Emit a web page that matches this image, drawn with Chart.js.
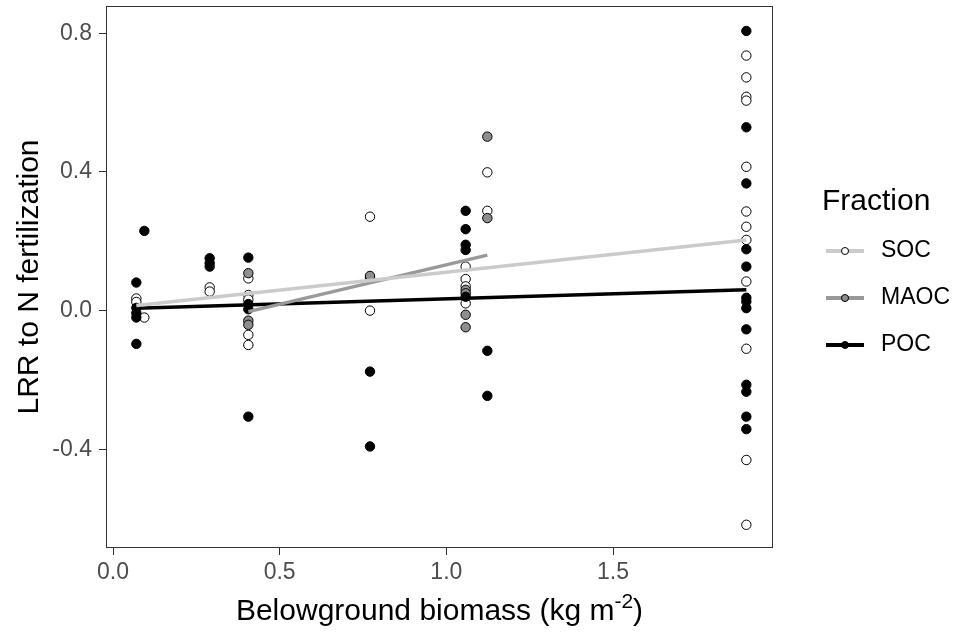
<!DOCTYPE html>
<html>
<head>
<meta charset="utf-8">
<script src="https://cdn.jsdelivr.net/npm/chart.js@4.4.1/dist/chart.umd.min.js"></script>
<style>
  html, body { margin: 0; padding: 0; background: #fff; }
  #wrap { width: 963px; height: 634px; }
</style>
</head>
<body>
<div id="wrap"><canvas id="chart" width="963" height="634"></canvas></div>
<script>
// Belowground biomass (x) vs LRR (y), one pair of arrays per fraction
const socX = [0.07, 0.07, 0.094, 0.29, 0.29, 0.406, 0.406, 0.406, 0.406, 0.406,
  0.771, 0.771, 0.771, 1.058, 1.058, 1.058, 1.058, 1.123, 1.123,
  1.9, 1.9, 1.9, 1.9, 1.9, 1.9, 1.9, 1.9, 1.9, 1.9, 1.9, 1.9];
const socY = [0.035, 0.025, -0.02, 0.067, 0.055, 0.093, 0.045, 0.032, -0.07, -0.099,
  0.271, 0.095, 0.0, 0.127, 0.091, 0.07, 0.021, 0.399, 0.288,
  0.736, 0.673, 0.617, 0.606, 0.415, 0.286, 0.242, 0.204, 0.084, -0.11, -0.431, -0.618];

const maocX = [0.406, 0.406, 0.406, 0.771, 1.058, 1.058, 1.058, 1.058, 1.123, 1.123];
const maocY = [0.108, -0.029, -0.041, 0.1, 0.06, 0.05, -0.012, -0.048, 0.502, 0.267];

const pocX = [0.07, 0.07, 0.07, 0.07, 0.07, 0.094, 0.29, 0.29, 0.29,
  0.406, 0.406, 0.406, 0.406, 0.771, 0.771, 1.058, 1.058, 1.058, 1.058, 1.058,
  1.123, 1.123, 1.9, 1.9, 1.9, 1.9, 1.9, 1.9, 1.9, 1.9, 1.9, 1.9, 1.9, 1.9, 1.9];
const pocY = [0.081, 0.008, -0.007, -0.02, -0.096, 0.23, 0.151, 0.137, 0.127,
  0.153, 0.019, 0.004, -0.306, -0.176, -0.392, 0.288, 0.235, 0.19, 0.175, 0.04,
  -0.116, -0.246, 0.807, 0.529, 0.367, 0.177, 0.127, 0.037, 0.026, 0.007, -0.054,
  -0.214, -0.234, -0.306, -0.342];

// fitted regression lines (end points)
const socFitX = [0.07, 1.9];
const socFitY = [0.015, 0.204];
const maocFitX = [0.406, 1.123];
const maocFitY = [-0.003, 0.16];
const pocFitX = [0.07, 1.9];
const pocFitY = [0.007, 0.06];

const fractions = ['SOC', 'MAOC', 'POC'];
const xTicks = [0, 0.5, 1.0, 1.5];
const yTicks = [-0.4, 0, 0.4, 0.8];

const FILLS = { SOC: '#ffffff', MAOC: '#8e8e8e', POC: '#000000' };
const LINES = { SOC: '#cbcbcb', MAOC: '#999999', POC: '#000000' };
const FONT = '"Liberation Sans", Arial, sans-serif';

Chart.defaults.font.family = FONT;

function toPoints(xs, ys) {
  return xs.map((x, i) => ({ x: x, y: ys[i] }));
}

function pointSet(name, xs, ys, order) {
  return {
    label: name,
    data: toPoints(xs, ys),
    showLine: false,
    pointRadius: 4.7,
    pointHoverRadius: 4.7,
    pointBorderWidth: 1,
    pointBorderColor: '#000',
    pointBackgroundColor: FILLS[name],
    order: order
  };
}

function lineSet(name, xs, ys) {
  return {
    label: name + ' fit',
    data: toPoints(xs, ys),
    showLine: true,
    pointRadius: 0,
    borderColor: LINES[name],
    borderWidth: 3.5,
    fill: false,
    order: 0
  };
}

// panel border, axis titles and the legend are drawn by hand
const decorations = {
  id: 'decorations',
  afterDraw(chart) {
    const ctx = chart.ctx;
    const a = chart.chartArea;
    ctx.save();
    ctx.strokeStyle = '#333';
    ctx.lineWidth = 1;
    ctx.strokeRect(a.left + 0.5, a.top + 0.5, a.right - a.left - 1, a.bottom - a.top - 1);

    ctx.fillStyle = '#000';
    // y title
    ctx.save();
    ctx.translate(30, (a.top + a.bottom) / 2);
    ctx.rotate(-Math.PI / 2);
    ctx.font = '30px ' + FONT;
    ctx.textAlign = 'center';
    ctx.textBaseline = 'middle';
    ctx.fillText('LRR to N fertilization', 0, 0);
    ctx.restore();

    // x title with superscript
    const main = 'Belowground biomass (kg m';
    const sup = '-2';
    ctx.font = '30px ' + FONT;
    const w1 = ctx.measureText(main).width;
    const w3 = ctx.measureText(')').width;
    ctx.font = '21px ' + FONT;
    const w2 = ctx.measureText(sup).width;
    let x = (a.left + a.right) / 2 - (w1 + w2 + w3) / 2;
    const base = 620;
    ctx.textAlign = 'left';
    ctx.textBaseline = 'alphabetic';
    ctx.font = '30px ' + FONT;
    ctx.fillText(main, x, base);
    ctx.font = '21px ' + FONT;
    ctx.fillText(sup, x + w1, base - 12);
    ctx.font = '30px ' + FONT;
    ctx.fillText(')', x + w1 + w2, base);

    // legend
    ctx.font = '30px ' + FONT;
    ctx.textBaseline = 'middle';
    ctx.fillText('Fraction', 822, 202);
    const rows = [251, 298, 345];
    fractions.forEach((name, i) => {
      const y = rows[i];
      ctx.strokeStyle = LINES[name];
      ctx.lineWidth = 4;
      ctx.beginPath();
      ctx.moveTo(826, y);
      ctx.lineTo(864, y);
      ctx.stroke();
      ctx.beginPath();
      ctx.arc(845, y, 3.5, 0, Math.PI * 2);
      ctx.fillStyle = FILLS[name];
      ctx.fill();
      ctx.strokeStyle = '#000';
      ctx.lineWidth = 1;
      ctx.stroke();
      ctx.fillStyle = '#000';
      ctx.font = '23px ' + FONT;
      ctx.fillText(name, 881, y);
    });
    ctx.restore();
  }
};

function axisTicks(values) {
  return scale => {
    scale.ticks = values.map(v => ({ value: v }));
  };
}

const tickFont = { size: 23 };

new Chart(document.getElementById('chart'), {
  type: 'scatter',
  data: {
    datasets: [
      lineSet('SOC', socFitX, socFitY),
      lineSet('MAOC', maocFitX, maocFitY),
      lineSet('POC', pocFitX, pocFitY),
      pointSet('POC', pocX, pocY, 1),
      pointSet('MAOC', maocX, maocY, 2),
      pointSet('SOC', socX, socY, 3)
    ]
  },
  options: {
    responsive: false,
    animation: false,
    layout: { padding: { top: 6, right: 190, left: 0, bottom: 0 } },
    plugins: {
      legend: { display: false },
      tooltip: { enabled: false }
    },
    scales: {
      x: {
        type: 'linear',
        min: -0.021,
        max: 1.98,
        afterBuildTicks: axisTicks(xTicks),
        afterFit: s => { s.height = 86; s.paddingLeft = 0; s.paddingRight = 0; },
        border: { display: false },
        grid: { drawOnChartArea: false, drawTicks: true, tickLength: 7, color: '#333', lineWidth: 1 },
        ticks: {
          color: '#4d4d4d',
          font: tickFont,
          padding: 4,
          maxRotation: 0,
          callback: v => v.toFixed(1)
        }
      },
      y: {
        type: 'linear',
        min: -0.685,
        max: 0.879,
        afterBuildTicks: axisTicks(yTicks),
        afterFit: s => { s.width = 106; s.paddingTop = 0; s.paddingBottom = 0; },
        border: { display: false },
        grid: { drawOnChartArea: false, drawTicks: true, tickLength: 7, color: '#333', lineWidth: 1 },
        ticks: {
          color: '#4d4d4d',
          font: tickFont,
          padding: 7,
          callback: v => v.toFixed(1)
        }
      }
    }
  },
  plugins: [decorations]
});
</script>
</body>
</html>
